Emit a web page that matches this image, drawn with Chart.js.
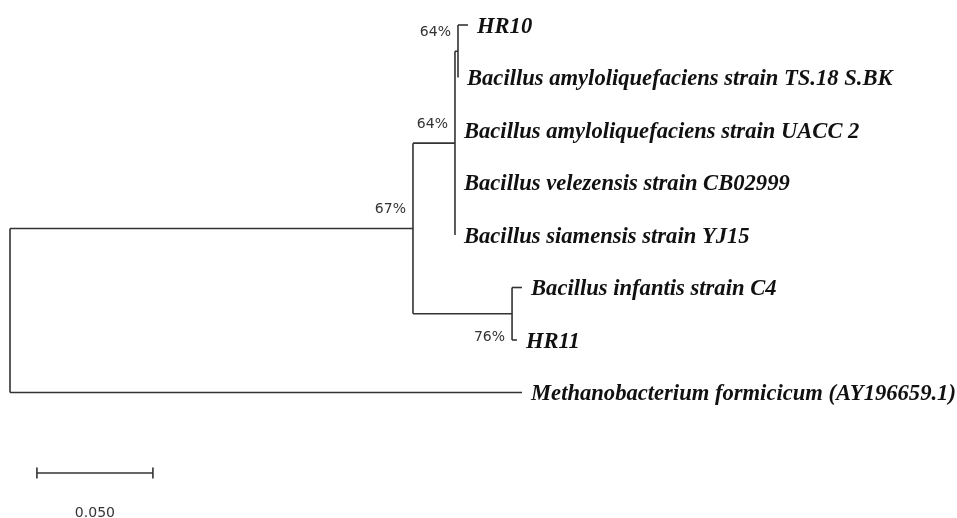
<!DOCTYPE html>
<html>
<head>
<meta charset="utf-8">
<script src="https://cdn.jsdelivr.net/npm/chart.js@4.4.1/dist/chart.umd.min.js"></script>
<style>
  html, body { margin: 0; padding: 0; background: #fff; }
  #wrap { width: 957px; height: 518px; position: relative; }
</style>
</head>
<body>
<div id="wrap"><canvas id="tree"></canvas></div>
<script>
// tips, top to bottom
const tipLabels = [
  "HR10",
  "Bacillus amyloliquefaciens strain TS.18 S.BK",
  "Bacillus amyloliquefaciens strain UACC 2",
  "Bacillus velezensis strain CB02999",
  "Bacillus siamensis strain YJ15",
  "Bacillus infantis strain C4",
  "HR11",
  "Methanobacterium formicicum (AY196659.1)"
];
const tipParents = ["n64b", "n64b", "n64a", "n64a", "n64a", "n76", "n76", "root"];
// distance from root (substitutions per site)
const tipDistance = [0.1974, 0.1931, 0.1918, 0.1918, 0.1918, 0.2207, 0.2185, 0.2207];

// internal nodes
const nodeIds = ["root", "n67", "n64a", "n64b", "n76"];
const nodeParents = [null, "root", "n67", "n64a", "n67"];
const nodeDistance = [0, 0.1737, 0.1918, 0.1931, 0.2164];
const nodeSupport = ["", "67%", "64%", "64%", "76%"];

const scaleBarLength = 0.05;
const scaleBarLabel = "0.050";

// work out the row (y) of every node
const rowOf = {};
tipLabels.forEach((t, i) => { rowOf["tip" + i] = i; });
function nodeRow(id) {
  if (rowOf[id] !== undefined) return rowOf[id];
  const rows = [];
  tipParents.forEach((p, i) => { if (p === id) rows.push(i); });
  nodeParents.forEach((p, i) => { if (p === id) rows.push(nodeRow(nodeIds[i])); });
  rowOf[id] = (Math.min(...rows) + Math.max(...rows)) / 2;
  rowOf[id + "_min"] = Math.min(...rows);
  rowOf[id + "_max"] = Math.max(...rows);
  return rowOf[id];
}
nodeIds.forEach(nodeRow);
const distOf = {};
nodeIds.forEach((id, i) => { distOf[id] = nodeDistance[i]; });

// branch segments
const segments = [];
tipLabels.forEach((t, i) => {
  segments.push([{ x: distOf[tipParents[i]], y: i }, { x: tipDistance[i], y: i }]);
});
nodeIds.forEach((id, i) => {
  const p = nodeParents[i];
  if (p) segments.push([{ x: distOf[p], y: rowOf[id] }, { x: nodeDistance[i], y: rowOf[id] }]);
  segments.push([{ x: nodeDistance[i], y: rowOf[id + "_min"] }, { x: nodeDistance[i], y: rowOf[id + "_max"] }]);
});

const lineColor = "#333";
const datasets = segments.map(s => ({
  data: s,
  showLine: true,
  borderColor: lineColor,
  borderWidth: 1.6,
  pointRadius: 0,
  pointHoverRadius: 0
}));

// scale bar
const scaleBarX = 0.0116;
const scaleBarRow = 8.533;
datasets.push({
  data: [{ x: scaleBarX, y: scaleBarRow }, { x: scaleBarX + scaleBarLength, y: scaleBarRow }],
  showLine: true,
  borderColor: lineColor,
  borderWidth: 1.6,
  pointStyle: "line",
  rotation: 90,
  pointRadius: 5.5,
  pointHoverRadius: 5.5,
  pointBorderWidth: 1.6,
  pointBorderColor: lineColor
});

const treeLabels = {
  id: "treeLabels",
  afterDatasetsDraw(chart) {
    const ctx = chart.ctx;
    const xs = chart.scales.x, ys = chart.scales.y;
    ctx.save();
    // tip names
    ctx.fillStyle = "#111";
    ctx.font = 'italic bold 22.6px "Liberation Serif"';
    ctx.textAlign = "left";
    ctx.textBaseline = "alphabetic";
    tipLabels.forEach((t, i) => {
      ctx.fillText(t, xs.getPixelForValue(tipDistance[i]) + 9, ys.getPixelForValue(i) + 7.5);
    });
    // bootstrap values
    ctx.fillStyle = "#333";
    ctx.font = '14px "DejaVu Sans"';
    ctx.textAlign = "right";
    nodeIds.forEach((id, i) => {
      if (!nodeSupport[i]) return;
      const px = xs.getPixelForValue(nodeDistance[i]) - 7;
      const py = ys.getPixelForValue(rowOf[id]);
      const below = rowOf[id] > rowOf[nodeParents[i]];
      ctx.fillText(nodeSupport[i], px, below ? py + 27 : py - 15);
    });
    // scale label
    ctx.textAlign = "center";
    ctx.fillText(scaleBarLabel, xs.getPixelForValue(scaleBarX + scaleBarLength / 2), ys.getPixelForValue(scaleBarRow) + 44);
    ctx.restore();
  }
};

new Chart(document.getElementById("tree"), {
  type: "scatter",
  data: { datasets },
  options: {
    responsive: true,
    maintainAspectRatio: false,
    animation: false,
    events: [],
    layout: { padding: 0, autoPadding: false },
    plugins: { legend: { display: false }, tooltip: { enabled: false } },
    scales: {
      x: { type: "linear", display: false, min: -10 / 2320, max: 947 / 2320 },
      y: { type: "linear", display: false, reverse: true, min: -25 / 52.5, max: 493 / 52.5 }
    }
  },
  plugins: [treeLabels]
});
</script>
</body>
</html>
